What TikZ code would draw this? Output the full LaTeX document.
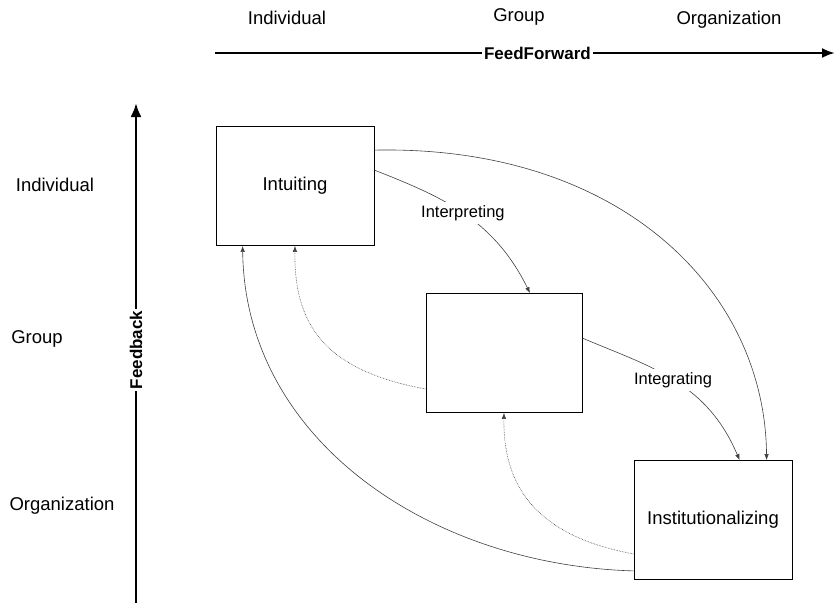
\documentclass[tikz,border=0pt]{standalone}
\usepackage{fontspec}
\setmainfont{Liberation Sans}
\usetikzlibrary{arrows.meta,calc}

\tikzset{
  levellabel/.style={anchor=base, font=\fontsize{18.5}{22}\selectfont},
  axislabel/.style={fill=white, inner sep=2pt, font=\fontsize{17}{20}\selectfont\bfseries},
  procbox/.style={rectangle, draw=black, line width=0.8pt, minimum width=158pt, minimum height=119pt, inner sep=0pt, font=\fontsize{18.5}{22}\selectfont},
  edgelabel/.style={fill=white, inner sep=3pt, font=\fontsize{16.5}{20}\selectfont},
  flow/.style={draw=black!75, line width=0.6pt, -{Latex[length=6pt,width=4.5pt]}},
  backflow/.style={flow, densely dotted},
}

\begin{document}
\begin{tikzpicture}[x=1pt, y=-1pt]
\useasboundingbox (0,0) rectangle (835,603);

% level labels along the top
\node[levellabel] (topind) at (287,24) {Individual};
\node[levellabel] (topgrp) at (519,21) {Group};
\node[levellabel] (toporg) at (729,24) {Organization};

% level labels along the left side
\node[levellabel] (leftind) at (55,191) {Individual};
\node[levellabel] (leftgrp) at (37,343) {Group};
\node[levellabel] (leftorg) at (62,510) {Organization};

% feed forward and feedback axes
\coordinate (ffstart) at (215,53);
\coordinate (ffend) at (835,53);
\draw[line width=2.5pt, -{Latex[length=13pt,width=10pt]}] (ffstart) -- (ffend) node[axislabel, pos=0.52] (fflabel) {FeedForward};
\coordinate (fbstart) at (136,603);
\coordinate (fbend) at (136,103);
\draw[line width=2.5pt, -{Latex[length=14pt,width=11pt]}] (fbstart) -- (fbend) node[axislabel, pos=0.506, rotate=90] (fblabel) {Feedback};

% the three processes
\node[procbox] (intuit) at (295,186) {Intuiting};
\node[procbox, minimum width=156pt] (grpbox) at (504,353) {};
\node[procbox] (instit) at (713,520) {Institutionalizing};

% feed forward flows
\draw[flow] ($(intuit.north east)+(0,44)$) .. controls (440,196) and (493,218) .. ($(grpbox.north)+(26,0)$) node[edgelabel, pos=0.5] (interp) {Interpreting};
\draw[flow] ($(grpbox.north east)+(0,45)$) .. controls (648,366) and (706,381) .. ($(instit.north west)+(106,0)$) node[edgelabel, pos=0.5] (integ) {Integrating};
\draw[flow] ($(intuit.north east)+(0,24)$) .. controls (620,145) and (765,290) .. ($(instit.north west)+(133,0)$);

% feedback flows
\draw[backflow] ($(grpbox.south west)+(0,-24)$) .. controls (320,370) and (294,320) .. (intuit.south);
\draw[backflow] ($(instit.south west)+(0,-26)$) .. controls (530,535) and (503,480) .. (grpbox.south);
\draw[flow] ($(instit.south west)+(0,-9)$) .. controls (430,565) and (245,440) .. ($(intuit.south west)+(27,0)$);
\end{tikzpicture}
\end{document}
